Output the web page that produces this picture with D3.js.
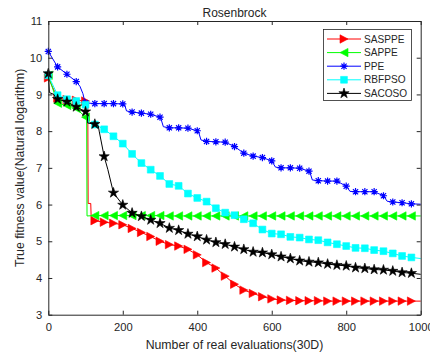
<!DOCTYPE html>
<html>
<head>
<meta charset="utf-8">
<script src="https://cdn.jsdelivr.net/npm/d3@7"></script>
<style>
  body { margin: 0; background: #fff; }
  svg { display: block; }
  text { font-family: "Liberation Sans", Arial, Helvetica, sans-serif; fill: #262626; }
</style>
</head>
<body>
<svg id="chart" width="430" height="354"></svg>
<script>
// Evaluation grid (one sample every 25 real evaluations)
const evaluations = [0,25,50,75,100,125,150,175,200,225,250,275,300,325,350,375,400,425,450,475,
  500,525,550,575,600,625,650,675,700,725,750,775,800,825,850,875,900,925,950,975,1000];

// ln(true fitness) of the best solution at each grid point
const sasppe = [9.45,8.90,8.86,8.84,8.82,5.56,5.52,5.49,5.45,5.35,5.24,5.13,5.00,4.91,4.87,4.78,4.63,4.42,4.27,4.05,
  3.83,3.67,3.58,3.49,3.43,3.40,3.39,3.38,3.38,3.38,3.37,3.37,3.37,3.37,3.37,3.37,3.37,3.37,3.37,3.37,3.37];
const sappe = [9.52,8.76,8.70,8.62,8.38,5.70,5.70,5.70,5.70,5.70,5.70,5.70,5.70,5.69,5.69,5.69,5.69,5.69,5.69,5.69,
  5.69,5.69,5.69,5.69,5.69,5.69,5.69,5.69,5.69,5.69,5.69,5.69,5.69,5.69,5.69,5.69,5.69,5.69,5.69,5.69,5.69];
const ppe = [10.17,9.75,9.55,9.35,8.77,8.75,8.75,8.75,8.74,8.52,8.49,8.46,8.38,8.09,8.09,8.08,8.01,7.72,7.71,7.70,
  7.58,7.40,7.32,7.28,7.19,7.00,7.00,6.99,6.91,6.65,6.64,6.64,6.50,6.35,6.35,6.35,6.24,6.07,6.05,6.02,6.01];
const rbfpso = [9.52,8.98,8.87,8.82,8.72,8.18,8.05,7.86,7.66,7.38,7.13,6.95,6.78,6.56,6.51,6.30,6.18,6.08,5.90,5.78,
  5.71,5.60,5.49,5.32,5.21,5.19,5.12,5.10,5.05,5.03,4.97,4.92,4.87,4.82,4.81,4.76,4.73,4.67,4.60,4.56,4.53];
const sacoso = [9.57,8.87,8.80,8.66,8.53,8.19,7.31,6.32,5.99,5.77,5.68,5.58,5.49,5.36,5.30,5.20,5.13,5.04,4.97,4.92,
  4.85,4.78,4.71,4.69,4.64,4.58,4.53,4.47,4.44,4.42,4.38,4.35,4.33,4.28,4.26,4.23,4.22,4.19,4.15,4.13,4.10];

// Extra [evaluation, value] vertices where a curve drops between grid points
const sasppeSteps = [[106,8.81],[107,6.03],[114,6.03],[115,5.68]];
const sappeSteps = [[103,8.36],[104,5.69]];
const ppeSteps = [[85,9.22],[93,9.02],[97,8.85],[205,8.72],[210,8.55],[303,8.32],[309,8.12],[404,7.96],[410,7.76],
  [604,7.12],[610,7.02],[703,6.86],[709,6.67],[804,6.45],[810,6.36],[904,6.18],[910,6.09]];
const rbfpsoSteps = [[104,8.65],[108,8.22]];
const sacosoSteps = [[3,9.05],[15,9.0],[20,8.9],[104,8.49],[106,8.22],[134,8.15],[137,7.98],[160,6.95]];

const xTicks = [0,200,400,600,800,1000];
const yTicks = [3,4,5,6,7,8,9,10,11];

const seriesNames = ["SASPPE","SAPPE","PPE","RBFPSO","SACOSO"];
const seriesColors = ["#ff0000","#00ff00","#0000ff","#00ffff","#000000"];
const seriesMarkers = ["triRight","triLeft","asterisk","square","star"];

const series = [
  {values: sasppe, steps: sasppeSteps},
  {values: sappe, steps: sappeSteps},
  {values: ppe, steps: ppeSteps},
  {values: rbfpso, steps: rbfpsoSteps},
  {values: sacoso, steps: sacosoSteps}
].map((s, i) => ({...s, name: seriesNames[i], color: seriesColors[i], marker: seriesMarkers[i]}));

const svg = d3.select("#chart");
const plotLeft = 48.3, plotRight = 420.7, plotTop = 21, plotBottom = 314.7;
const x = d3.scaleLinear().domain([0, 1000]).range([plotLeft, plotRight]);
const y = d3.scaleLinear().domain([3, 11]).range([plotBottom, plotTop]);
const axisColor = "#262626";

// Marker shapes
function starPath(R) {
  const r = R * 0.382, pts = [];
  for (let k = 0; k < 10; k++) {
    const a = -Math.PI / 2 + k * Math.PI / 5, rr = k % 2 ? r : R;
    pts.push([rr * Math.cos(a), rr * Math.sin(a)]);
  }
  return "M" + pts.map(p => p.join(",")).join("L") + "Z";
}
const markerPaths = {
  triRight: "M-4,-4.2L4,0L-4,4.2Z",
  triLeft: "M4,-4.2L-4,0L4,4.2Z",
  asterisk: "M-3.6,0H3.6M0,-3.6V3.6M-2.6,-2.6L2.6,2.6M-2.6,2.6L2.6,-2.6",
  square: "M-3.4,-3.4H3.4V3.4H-3.4Z",
  star: starPath(5.4)
};
function drawMarker(g, kind, color) {
  const p = g.append("path").attr("d", markerPaths[kind]);
  if (kind === "asterisk") p.attr("fill", "none").attr("stroke", color).attr("stroke-width", 1.2);
  else p.attr("fill", color).attr("stroke", color).attr("stroke-width", 0.6);
}

// Curves and markers
const line = d3.line().x(d => x(d[0])).y(d => y(d[1]));
const plot = svg.append("g");
series.forEach(s => {
  const pts = evaluations.map((e, i) => [e, s.values[i]]).concat(s.steps).sort((a, b) => a[0] - b[0]);
  plot.append("path").attr("d", line(pts)).attr("fill", "none")
    .attr("stroke", s.color).attr("stroke-width", 1);
  evaluations.slice(0, -1).forEach((e, i) => {
    const g = plot.append("g").attr("transform", `translate(${x(e)},${y(s.values[i])})`);
    drawMarker(g, s.marker, s.color);
  });
});

// Axes with inward ticks on all four sides
function styleAxis(g) {
  g.selectAll("path.domain").attr("stroke", axisColor).attr("stroke-width", 1);
  g.selectAll(".tick line").attr("stroke", axisColor).attr("stroke-width", 1);
  g.selectAll("text").attr("fill", axisColor).style("font-size", "11.2px")
    .style("font-family", '"Liberation Sans", Arial, sans-serif');
}
svg.append("g").attr("transform", `translate(0,${plotBottom})`)
  .call(d3.axisBottom(x).tickValues(xTicks).tickSizeInner(-4).tickSizeOuter(0).tickPadding(8.5).tickFormat(d3.format("d")))
  .call(styleAxis);
svg.append("g").attr("transform", `translate(0,${plotTop})`)
  .call(d3.axisTop(x).tickValues(xTicks).tickSizeInner(-4).tickSizeOuter(0).tickFormat(""))
  .call(styleAxis);
svg.append("g").attr("transform", `translate(${plotLeft},0)`)
  .call(d3.axisLeft(y).tickValues(yTicks).tickSizeInner(-4).tickSizeOuter(0).tickPadding(6).tickFormat(d3.format("d")))
  .call(styleAxis);
svg.append("g").attr("transform", `translate(${plotRight},0)`)
  .call(d3.axisRight(y).tickValues(yTicks).tickSizeInner(-4).tickSizeOuter(0).tickFormat(""))
  .call(styleAxis);

// Title and axis labels
svg.append("text").attr("x", (plotLeft + plotRight) / 2).attr("y", 16.5).attr("text-anchor", "middle")
  .style("font-size", "12px").text("Rosenbrock");
svg.append("text").attr("x", (plotLeft + plotRight) / 2).attr("y", 349).attr("text-anchor", "middle")
  .style("font-size", "12.3px").text("Number of real evaluations(30D)");
svg.append("text").attr("transform", `translate(24,${(plotTop + plotBottom) / 2}) rotate(-90)`).attr("text-anchor", "middle")
  .style("font-size", "12.3px").text("True fitness value(Natural logarithm)");

// Legend
const legend = svg.append("g");
legend.append("rect").attr("x", 323.5).attr("y", 29.5).attr("width", 88).attr("height", 71)
  .attr("fill", "#fff").attr("stroke", axisColor).attr("stroke-width", 0.8);
series.forEach((s, i) => {
  const cy = 39 + i * 13.6;
  legend.append("line").attr("x1", 327).attr("x2", 361).attr("y1", cy).attr("y2", cy)
    .attr("stroke", s.color).attr("stroke-width", 1);
  drawMarker(legend.append("g").attr("transform", `translate(344,${cy})`), s.marker, s.color);
  legend.append("text").attr("x", 364).attr("y", cy + 3.6).style("font-size", "10.1px").text(s.name);
});
</script>
</body>
</html>
